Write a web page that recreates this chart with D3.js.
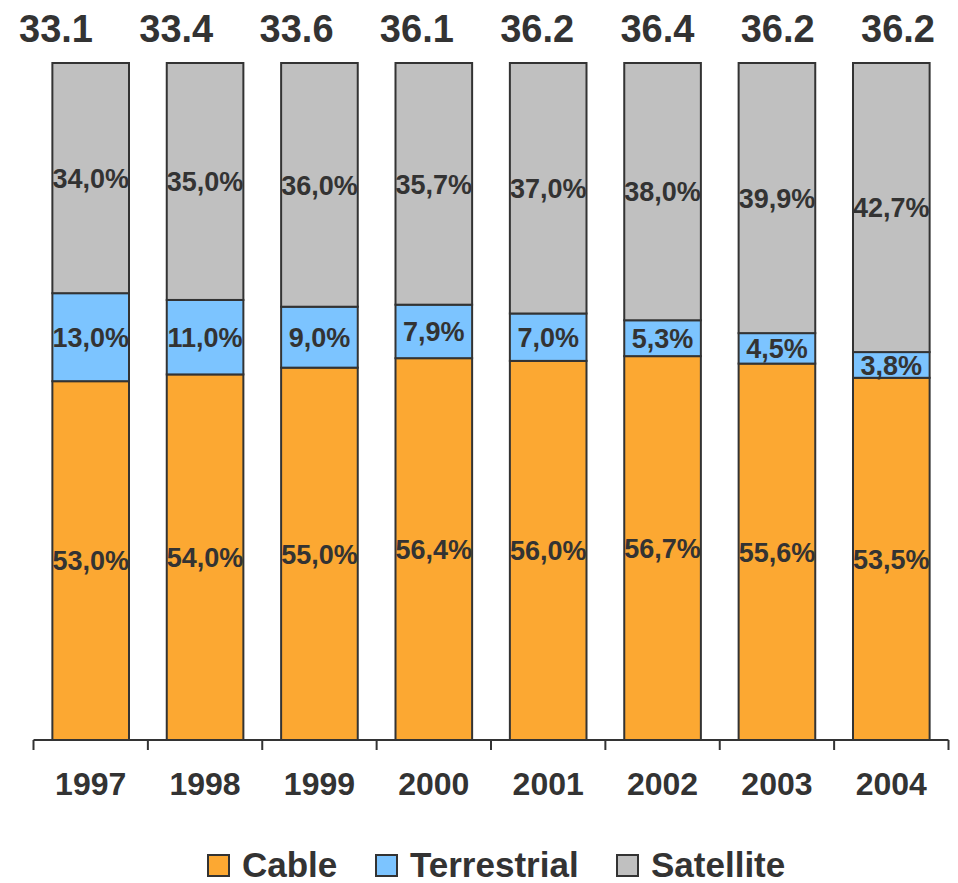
<!DOCTYPE html>
<html lang="en">
<head>
  <meta charset="utf-8">
  <script src="https://d3js.org/d3.v7.min.js"></script>
  <style>
    body { margin: 0; background: #fff; }
    text { font-family: Arial, "Liberation Sans", sans-serif; font-weight: bold; fill: #333; }
  </style>
</head>
<body>
  <script>
    // stacked 100% bars, TV reception share by year

    const years = ["1997", "1998", "1999", "2000", "2001", "2002", "2003", "2004"];
    const totals = ["33.1", "33.4", "33.6", "36.1", "36.2", "36.4", "36.2", "36.2"];
    const cable = [53.0, 54.0, 55.0, 56.4, 56.0, 56.7, 55.6, 53.5];
    const terrestrial = [13.0, 11.0, 9.0, 7.9, 7.0, 5.3, 4.5, 3.8];
    const satellite = [34.0, 35.0, 36.0, 35.7, 37.0, 38.0, 39.9, 42.7];
    const seriesNames = ["Cable", "Terrestrial", "Satellite"];
    const colors = ["#FCA832", "#7CC4FF", "#C0C0C0"];

    const width = 958, height = 883;
    const plotLeft = 33.5, plotRight = 948.5, plotTop = 63, plotBottom = 740;

    const svg = d3.select("body").append("svg")
      .attr("width", width)
      .attr("height", height);

    const rows = years.map((yr, i) => ({
      year: yr, Cable: cable[i], Terrestrial: terrestrial[i], Satellite: satellite[i]
    }));
    const stacked = d3.stack().keys(seriesNames)(rows);

    const x = d3.scaleBand().domain(years).range([plotLeft, plotRight]).paddingInner(0.33).paddingOuter(0.165);
    const y = d3.scaleLinear().domain([0, 100]).range([plotBottom, plotTop]);

    // bars
    const groups = svg.append("g").selectAll("g")
      .data(stacked)
      .enter().append("g")
      .attr("fill", (d, i) => colors[i]);

    groups.selectAll("rect")
      .data(d => d)
      .enter().append("rect")
      .attr("x", d => x(d.data.year))
      .attr("width", x.bandwidth())
      .attr("y", d => y(d[1]))
      .attr("height", d => y(d[0]) - y(d[1]))
      .attr("stroke", "#333")
      .attr("stroke-width", 2);

    // segment labels
    groups.selectAll("text")
      .data(d => d)
      .enter().append("text")
      .attr("x", d => x(d.data.year) + x.bandwidth() / 2)
      .attr("y", d => (y(d[0]) + y(d[1])) / 2)
      .attr("dy", "0.36em")
      .attr("text-anchor", "middle")
      .style("font-size", "27px")
      .text(d => (d[1] - d[0]).toFixed(1).replace(".", ",") + "%");

    // totals on top (own text row, spaced a bit wider than the bars)
    const xTotals = d3.scalePoint().domain(years).range([56, 898]);
    svg.append("g").selectAll("text")
      .data(years)
      .enter().append("text")
      .attr("x", d => xTotals(d))
      .attr("y", 42)
      .attr("text-anchor", "middle")
      .style("font-size", "38px")
      .text((d, i) => totals[i]);

    // x axis
    const xTicks = d3.scalePoint().domain(d3.range(years.length + 1)).range([plotLeft, plotRight]);
    const axis = svg.append("g").attr("transform", "translate(0," + plotBottom + ")");
    axis.append("line")
      .attr("x1", plotLeft).attr("x2", plotRight)
      .attr("stroke", "#333").attr("stroke-width", 2);
    axis.selectAll("line.tick")
      .data(xTicks.domain())
      .enter().append("line")
      .attr("class", "tick")
      .attr("x1", d => xTicks(d)).attr("x2", d => xTicks(d))
      .attr("y1", 0).attr("y2", 10)
      .attr("stroke", "#333").attr("stroke-width", 2);
    axis.selectAll("text")
      .data(years)
      .enter().append("text")
      .attr("x", d => x(d) + x.bandwidth() / 2)
      .attr("y", 55)
      .attr("text-anchor", "middle")
      .style("font-size", "32px")
      .text(d => d);

    // legend
    const legendX = [208, 376, 617];
    const legend = svg.append("g").selectAll("g")
      .data(seriesNames)
      .enter().append("g")
      .attr("transform", (d, i) => "translate(" + legendX[i] + ",855)");
    legend.append("rect")
      .attr("width", 21).attr("height", 21)
      .attr("fill", (d, i) => colors[i])
      .attr("stroke", "#333").attr("stroke-width", 2);
    legend.append("text")
      .attr("x", 34)
      .attr("y", 22)
      .style("font-size", "35px")
      .text(d => d);
  </script>
</body>
</html>
